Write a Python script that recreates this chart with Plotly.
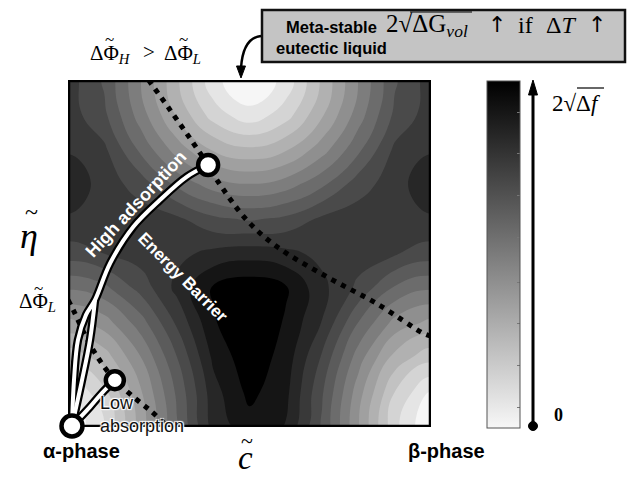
import plotly.graph_objects as go

# ---------------- data ----------------
# grid runs one step past the square on every side so that edge features close smoothly
c_grid = [-0.1, 0.0, 0.1, 0.2, 0.3, 0.4, 0.5, 0.6, 0.7, 0.8, 0.9, 1.0, 1.1]
eta_grid = [-0.1, 0.0, 0.1, 0.2, 0.3, 0.4, 0.5, 0.6, 0.7, 0.8, 0.9, 1.0, 1.1]
# normalised free-energy darkness (0 = white well, ~10 = black maximum); one row per eta
f_rows = [
    [1.91, 0.65, 1.91, 4.1, 6.43, 7.5, 7.9, 7.6, 7.08, 4.51, 2.09, 0.65, 2.09],
    [1.38, 0.0, 1.38, 3.81, 6.24, 8.67, 9.5, 9.05, 6.9, 4.25, 1.6, 0.0, 1.6],
    [1.91, 0.65, 1.91, 4.1, 6.43, 8.81, 10.0, 9.3, 7.08, 4.51, 2.09, 0.65, 2.09],
    [3.11, 2.32, 3.11, 4.87, 6.98, 9.24, 10.3, 9.5, 7.59, 5.23, 3.24, 2.32, 3.24],
    [4.55, 4.0, 4.55, 5.96, 7.82, 9.7, 10.6, 9.7, 8.37, 6.27, 4.65, 4.0, 4.65],
    [6.11, 5.68, 6.11, 7.25, 8.6, 9.9, 10.3, 9.9, 8.6, 7.52, 6.19, 5.68, 6.19],
    [7.71, 7.37, 7.71, 8.05, 8.2, 8.6, 8.8, 8.6, 8.2, 8.05, 7.77, 7.37, 7.77],
    [8.05, 8.3, 8.05, 8.05, 7.84, 7.15, 6.9, 7.15, 7.84, 8.05, 8.05, 8.3, 8.05],
    [8.05, 9.0, 8.05, 7.39, 6.13, 5.24, 4.92, 5.24, 6.13, 7.39, 8.05, 9.0, 8.05],
    [7.84, 8.3, 7.84, 6.13, 4.58, 3.4, 2.93, 3.4, 4.58, 6.13, 7.84, 8.3, 7.84],
    [7.15, 8.05, 7.15, 5.24, 3.4, 1.76, 0.94, 1.76, 3.4, 5.24, 7.15, 8.05, 7.15],
    [6.9, 8.05, 6.9, 4.92, 2.93, 0.94, 0.0, 0.94, 2.93, 4.92, 6.9, 8.05, 6.9],
    [7.15, 8.05, 7.15, 5.24, 3.4, 1.76, 0.94, 1.76, 3.4, 5.24, 7.15, 8.05, 7.15],
]

# phase-field boundaries (dotted)
phiH_c = [0.222, 0.281, 0.364, 0.410, 0.492, 0.575, 0.713, 0.850, 0.979, 1.0]
phiH_eta = [1.0, 0.914, 0.789, 0.712, 0.597, 0.520, 0.433, 0.356, 0.270, 0.262]
phiL_c = [0.0, 0.0147, 0.047, 0.0835, 0.129, 0.1846, 0.2306, 0.267]
phiL_eta = [0.366, 0.337, 0.265, 0.198, 0.135, 0.0827, 0.044, 0.009]

# transformation paths
high_c = [0.011, 0.0165, 0.0275, 0.0496, 0.0744, 0.116, 0.18, 0.253, 0.327, 0.386]
high_eta = [0.003, 0.135, 0.251, 0.323, 0.366, 0.472, 0.577, 0.654, 0.721, 0.755]
high2_c = [0.011, 0.0386, 0.0606, 0.0744]
high2_eta = [0.003, 0.135, 0.251, 0.366]
low_c = [0.011, 0.0606, 0.0928, 0.129]
low_eta = [0.003, 0.058, 0.097, 0.135]

# states: alpha, high-adsorption end, low-absorption end
state_c = [0.011, 0.386, 0.129]
state_eta = [0.003, 0.755, 0.135]
state_size = [21, 20, 18]

cbar_ticks = [0.06, 0.18, 0.30, 0.42, 0.55, 0.67, 0.79, 0.91]

# ---------------- geometry helpers ----------------
L, R, T, B = 68, 431, 80, 427
W, H = 635, 477


def P(px, py):
    return (px - L) / (R - L), (B - py) / (B - T)


SANS = "Liberation Sans"
SERIF = "Liberation Serif"
bar_scale = [[0.0, "#f7f7f7"], [1.0, "#000000"]]
map_scale = [[0.0, "#f6f6f6"], [0.78, "#3a3a3a"], [0.85, "#292929"],
             [0.917, "#181818"], [1.0, "#000000"]]

fig = go.Figure()

fig.add_trace(go.Contour(
    x=c_grid, y=eta_grid, z=f_rows,
    colorscale=map_scale, zmin=0, zmax=10.3,
    contours=dict(start=0.7, end=9.8, size=0.7, coloring="fill"),
    line=dict(width=0, smoothing=1.3),
    showscale=False, hoverinfo="skip",
))

# frame
fig.add_trace(go.Scatter(x=[0, 1, 1, 0, 0], y=[0, 0, 1, 1, 0], mode="lines",
                         line=dict(color="black", width=4.5), cliponaxis=False,
                         hoverinfo="skip", showlegend=False))

for xs, ys in [(phiH_c, phiH_eta), (phiL_c, phiL_eta)]:
    fig.add_trace(go.Scatter(x=xs, y=ys, mode="lines",
                             line=dict(color="black", width=5, dash="5px,6px", shape="spline"),
                             hoverinfo="skip", showlegend=False))

for xs, ys in [(high_c, high_eta), (high2_c, high2_eta), (low_c, low_eta)]:
    fig.add_trace(go.Scatter(x=xs, y=ys, mode="lines", cliponaxis=False,
                             line=dict(color="black", width=8.5, shape="spline"),
                             hoverinfo="skip", showlegend=False))
for xs, ys in [(high_c, high_eta), (high2_c, high2_eta), (low_c, low_eta)]:
    fig.add_trace(go.Scatter(x=xs, y=ys, mode="lines", cliponaxis=False,
                             line=dict(color="white", width=4, shape="spline"),
                             hoverinfo="skip", showlegend=False))

fig.add_trace(go.Scatter(x=state_c, y=state_eta, mode="markers", cliponaxis=False,
                         marker=dict(size=state_size, color="#ffffff", opacity=1,
                                     line=dict(color="#000000", width=4.5)),
                         hoverinfo="skip", showlegend=False))

# colour-bar carrier (off-range point)
cbx, cby = P(487, 254.5)
fig.add_trace(go.Scatter(x=[-5], y=[-5], mode="markers", hoverinfo="skip", showlegend=False,
                         marker=dict(color=[0], cmin=0, cmax=1, colorscale=bar_scale,
                                     showscale=True,
                                     colorbar=dict(x=cbx, xanchor="left", y=cby, yanchor="middle",
                                                   xref="paper", yref="paper",
                                                   lenmode="pixels", len=347, thickness=33,
                                                   xpad=0, ypad=0, outlinewidth=1,
                                                   outlinecolor="#555555",
                                                   tickvals=cbar_ticks, ticks="inside",
                                                   ticklen=3, tickcolor="#777777",
                                                   showticklabels=False))))

shapes = []
x0, y0 = P(262, 62)
x1, y1 = P(625, 10)
shapes.append(dict(type="rect", xref="paper", yref="paper", x0=x0, y0=y0, x1=x1, y1=y1,
                   fillcolor="#c4c4c4", line=dict(color="#111111", width=2.5), layer="above"))


def path(pts, close=False):
    s = ""
    for cmd, px, py in pts:
        a, b = P(px, py)
        s += f"{cmd}{a:.5f},{b:.5f} "
    if close:
        s += "Z"
    return s


a0 = P(261, 36); a1 = P(243, 38); a2 = P(241, 68)
shapes.append(dict(type="path", xref="paper", yref="paper",
                   path=f"M{a0[0]:.5f},{a0[1]:.5f} Q{a1[0]:.5f},{a1[1]:.5f} {a2[0]:.5f},{a2[1]:.5f}",
                   line=dict(color="black", width=2.5)))
shapes.append(dict(type="path", xref="paper", yref="paper",
                   path=path([("M", 236.5, 66), ("L", 245.5, 66), ("L", 241, 78)], True),
                   fillcolor="black", line=dict(color="black", width=1)))
shapes.append(dict(type="line", xref="paper", yref="paper",
                   x0=P(533, 426)[0], y0=P(533, 426)[1], x1=P(533, 92)[0], y1=P(533, 92)[1],
                   line=dict(color="black", width=3)))
shapes.append(dict(type="path", xref="paper", yref="paper",
                   path=path([("M", 528.5, 95), ("L", 537.5, 95), ("L", 533, 80)], True),
                   fillcolor="black", line=dict(color="black", width=1)))
d0 = P(528.5, 421.5); d1 = P(537.5, 430.5)
shapes.append(dict(type="circle", xref="paper", yref="paper", x0=d0[0], y0=d1[1], x1=d1[0], y1=d0[1],
                   fillcolor="black", line=dict(color="black", width=1)))
# vincula of the square roots
for (xa, xb, yy) in [(410, 472, 12), (577, 604, 88)]:
    v0 = P(xa, yy); v1 = P(xb, yy)
    shapes.append(dict(type="line", xref="paper", yref="paper", x0=v0[0], y0=v0[1], x1=v1[0], y1=v1[1],
                       line=dict(color="black", width=1.2)))

ann = []


def txt(text, px, py, size, family=SANS, color="black", angle=0, xanchor="center", align="center",
        weight="normal", shadow="none"):
    x, y = P(px, py)
    ann.append(dict(text=text, x=x, y=y, xref="paper", yref="paper", showarrow=False,
                    xanchor=xanchor, yanchor="middle", align=align, textangle=angle,
                    font=dict(family=family, size=size, color=color, weight=weight, shadow=shadow)))


# labels with tildes (tilde drawn as its own glyph above the letter)
txt("ΔΦ<sub><i>H</i></sub>", 88, 54, 21, SERIF, xanchor="left")
txt(">", 149, 52, 21, SERIF)
txt("ΔΦ<sub><i>L</i></sub>", 162, 54, 21, SERIF, xanchor="left")
txt("~", 109, 40, 17, SERIF)
txt("~", 183, 40, 17, SERIF)
txt("<i>η</i>", 29, 236, 36, SERIF)
txt("~", 31, 212, 24, SERIF)
txt("ΔΦ<sub><i>L</i></sub>", 17, 302, 21, SERIF, xanchor="left")
txt("~", 38, 288, 17, SERIF)
txt("<i>c</i>", 245, 458, 33, SERIF)
txt("~", 247, 440, 22, SERIF)

txt("α-phase", 81, 451, 20, weight="bold")
txt("β-phase", 446, 451, 20, weight="bold")
txt("High adsorption", 136, 204, 18, color="white", angle=-47, weight="bold")
txt("Energy Barrier", 183, 277, 17, color="white", angle=45, weight="bold")
txt("Low<br>absorption", 98, 414, 18, color="#111111", xanchor="left", align="left",
    shadow="1px 1px 1px #ffffff, -1px -1px 1px #ffffff, 1px -1px 1px #ffffff, -1px 1px 1px #ffffff")
txt("Meta-stable<br>eutectic liquid", 331, 37, 16.5, weight="bold")
txt("2√ΔG<sub><i>vol</i></sub>", 384, 25, 25, SERIF, xanchor="left")
txt("↑", 497, 24, 22, "DejaVu Sans")
txt("if", 525, 25, 24, SERIF)
txt("Δ<i>T</i>", 561, 25, 24, SERIF)
txt("↑", 597, 24, 22, "DejaVu Sans")
txt("2√Δ<i>f</i>", 550, 103, 23, SERIF, xanchor="left")
txt("0", 558, 415, 18, SERIF, weight="bold")

fig.update_layout(
    width=W, height=H,
    margin=dict(l=L, r=W - R, t=T, b=H - B),
    paper_bgcolor="white", plot_bgcolor="white",
    xaxis=dict(range=[0, 1], visible=False, showgrid=False, zeroline=False, fixedrange=True),
    yaxis=dict(range=[0, 1], visible=False, showgrid=False, zeroline=False, fixedrange=True),
    shapes=shapes, annotations=ann, showlegend=False,
)

fig.write_html("out.html")
